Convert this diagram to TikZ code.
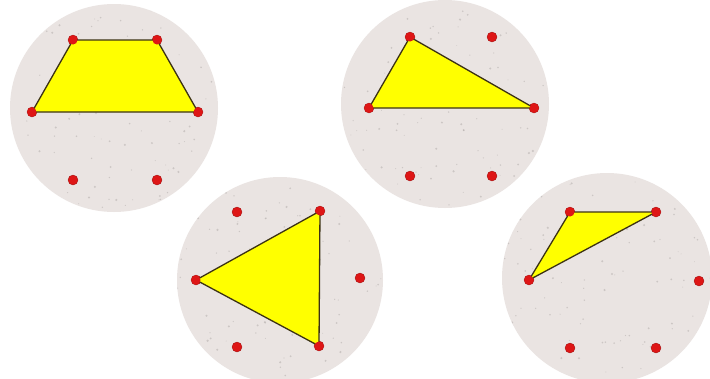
\documentclass[tikz,border=0pt]{standalone}
\usetikzlibrary{calc}
\begin{document}
\begin{tikzpicture}[x=1pt,y=-1pt,
  disc/.style={fill=discgray, draw=none},
  dot/.style={circle, fill=dotred, draw=dotred!70!black, line width=0.3pt, minimum size=10pt, inner sep=0pt},
  poly/.style={fill=polyyellow, draw=edgeolive, line width=1.3pt, line join=round}]
\definecolor{discgray}{RGB}{234,228,226}
\definecolor{dotred}{RGB}{222,22,22}
\definecolor{edgeolive}{RGB}{60,50,20}
\definecolor{speck}{RGB}{175,170,168}
\definecolor{polyyellow}{RGB}{255,255,0}
\useasboundingbox (0,0) rectangle (710,378);
\fill[white] (0,0) rectangle (710,378);
% discs
\pgfmathsetseed{7}
\foreach \cx/\cy/\r in {114/108/104, 445/104/104, 280/280/103, 607/278/105}{
  \fill[discgray] (\cx,\cy) circle[radius=\r];
  \begin{scope}
    \clip (\cx,\cy) circle[radius=\r];
    \foreach \k in {1,...,90}{
      \pgfmathsetmacro{\ang}{360*rnd}
      \pgfmathsetmacro{\rad}{\r*sqrt(rnd)}
      \pgfmathsetmacro{\sz}{0.4+0.8*rnd}
      \fill[speck, opacity=0.5] ($(\cx,\cy)+(\ang:\rad)$) circle[radius=\sz];
    }
  \end{scope}
}
% disc 1
\node[dot] (a1) at (73,40) {};
\node[dot] (a2) at (157,40) {};
\node[dot] (a3) at (32,112) {};
\node[dot] (a4) at (198,112) {};
\node[dot] (a5) at (73,180) {};
\node[dot] (a6) at (157,180) {};
% disc 2
\node[dot] (b1) at (410,37) {};
\node[dot] (b2) at (492,37) {};
\node[dot] (b3) at (369,108) {};
\node[dot] (b4) at (534,108) {};
\node[dot] (b5) at (410,176) {};
\node[dot] (b6) at (492,176) {};
% disc 3
\node[dot] (c1) at (237,212) {};
\node[dot] (c2) at (320,211) {};
\node[dot] (c3) at (196,280) {};
\node[dot] (c4) at (360,278) {};
\node[dot] (c5) at (237,347) {};
\node[dot] (c6) at (319,346) {};
% disc 4
\node[dot] (d1) at (570,212) {};
\node[dot] (d2) at (656,212) {};
\node[dot] (d3) at (529,280) {};
\node[dot] (d4) at (699,281) {};
\node[dot] (d5) at (570,348) {};
\node[dot] (d6) at (656,348) {};
% polygons
\draw[poly] (a1.center) -- (a2.center) -- (a4.center) -- (a3.center) -- cycle;
\draw[poly] (b1.center) -- (b4.center) -- (b3.center) -- cycle;
\draw[poly] (c2.center) -- (c6.center) -- (c3.center) -- cycle;
\draw[poly] (d1.center) -- (d2.center) -- (d3.center) -- cycle;
% redraw vertex dots on top
\foreach \n in {a1,a2,a3,a4,b1,b3,b4,c2,c3,c6,d1,d2,d3}{
  \fill[dotred] (\n.center) circle[radius=4.5pt];
}
\end{tikzpicture}
\end{document}
